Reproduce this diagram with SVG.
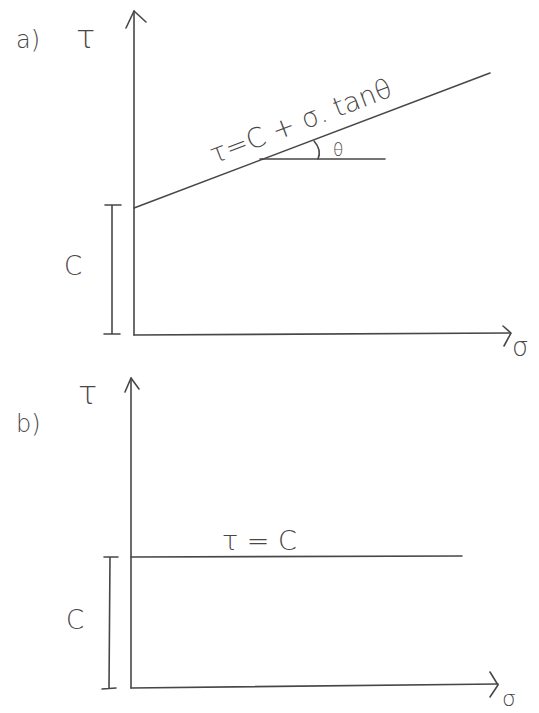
<svg xmlns="http://www.w3.org/2000/svg" width="539" height="713" viewBox="0 0 539 713">
<style>
.ln{stroke:#4a4646;stroke-width:1.6;fill:none;stroke-linecap:round;stroke-linejoin:round}
.t{font-family:"DejaVu Sans","Liberation Sans",sans-serif;fill:#4a4646;font-weight:300}
</style>
<rect width="539" height="713" fill="#ffffff"/>
<g id="panel-a">
  <text class="t" x="16" y="48" font-size="24">a)</text>
  <text class="t" x="76" y="48" font-size="32">τ</text>
  <g id="axis-a">
    <path class="ln" d="M134,335 L134,11"/>
    <path class="ln" d="M126,28 L134,11 L146,22"/>
    <path class="ln" d="M134,335 L510,333"/>
    <path class="ln" d="M503,326 L511,333 L504,346"/>
    <text class="t" x="512" y="356" font-size="26">σ</text>
  </g>
  <g id="line-a">
    <path class="ln" d="M134,208 L490,73"/>
    <path class="ln" d="M260,159 L385,159"/>
    <path class="ln" d="M314,141 Q322,150 318,159"/>
    <text class="t" x="333" y="156" font-size="17">θ</text>
    <text class="t" font-size="27" transform="translate(214,164) rotate(-20.8)">τ=C + σ. tanθ</text>
  </g>
  <g id="bracket-a">
    <path class="ln" d="M112,205 L112,334 M105,205 L121,205 M104,334 L120,334"/>
    <text class="t" x="64" y="275" font-size="26">C</text>
  </g>
</g>
<g id="panel-b">
  <text class="t" x="16" y="432" font-size="24">b)</text>
  <text class="t" x="78" y="404" font-size="32">τ</text>
  <g id="axis-b">
    <path class="ln" d="M131,688 L131,378"/>
    <path class="ln" d="M125,392 L131,378 L139,389"/>
    <path class="ln" d="M131,688 L498,684"/>
    <path class="ln" d="M490,672 L498,685 L490,697"/>
    <text class="t" x="502" y="706" font-size="22">σ</text>
  </g>
  <g id="line-b">
    <path class="ln" d="M131,557 L462,556"/>
    <text class="t" x="222" y="550" font-size="27">τ = C</text>
  </g>
  <g id="bracket-b">
    <path class="ln" d="M110,557 L109,688 M104,557 L118,557 M102,689 L116,688"/>
    <text class="t" x="66" y="629" font-size="26">C</text>
  </g>
</g>
</svg>
